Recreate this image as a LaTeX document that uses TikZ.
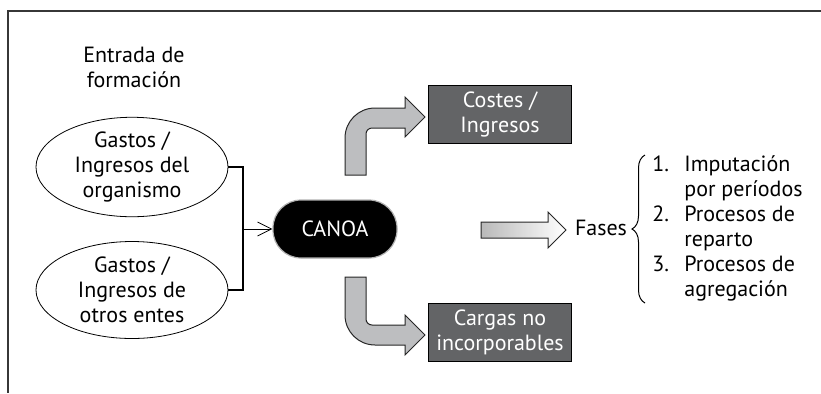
\documentclass[tikz,border=0pt]{standalone}
\usepackage{fontspec}
\setmainfont{PT Sans}
\usetikzlibrary{shapes.geometric,arrows.meta,decorations.pathreplacing}
\definecolor{boxgray}{RGB}{99,100,102}
\definecolor{arrowgray}{RGB}{189,190,192}
\definecolor{framegray}{RGB}{55,55,55}
\tikzset{
  source/.style={ellipse, draw, line width=0.4pt, minimum width=96pt,
    minimum height=48.5pt, inner sep=0pt, align=center},
  core/.style={rounded corners=14pt, fill=black, draw=gray!60,
    line width=0.6pt, text=white, minimum width=62pt, minimum height=29pt},
  result/.style={fill=boxgray, draw=black, line width=0.5pt, text=white,
    minimum width=71.5pt, minimum height=29pt, inner sep=0pt, align=center},
  bentarrow/.style={fill=arrowgray, draw=black!85, line width=0.5pt},
  flatarrow/.style={left color=gray!55, right color=white, draw=black!85,
    line width=0.5pt},
}
\begin{document}
\begin{tikzpicture}[x=0.5pt,y=-0.5pt,font=\fontsize{11}{12.5}\selectfont]
  \useasboundingbox (0,0) rectangle (821,393);
  \draw[framegray,line width=0.6pt] (821,11) -- (8,11) -- (8,393);

  \node[align=center] (entry) at (134,67) {Entrada de\\formación};
  \node[source] (own) at (132,167) {Gastos /\\Ingresos del\\organismo};
  \node[source] (other) at (132,290) {Gastos /\\Ingresos de\\otros entes};
  \node[core] (canoa) at (335,229) {CANOA};
  \node[result] (costs) at (500,114) {Costes /\\Ingresos};
  \node[result] (loads) at (500,332) {Cargas no\\incorporables};
  \node (phases) at (601,228) {Fases};
  \node[anchor=west, inner sep=0pt] (steps) at (652,229) {%
    \begin{tabular}{@{}p{16pt}@{}l@{}}
      1. & Imputación\\
         & por períodos\\
      2. & Procesos de\\
         & reparto\\
      3. & Procesos de\\
         & agregación
    \end{tabular}};

  % inputs into CANOA
  \coordinate (join) at (243,229);
  \draw[line width=1pt] (own.east) -| (join) |- (other.east);
  \draw[-{Straight Barb[length=7pt,width=7pt]}, line width=0.4pt]
    (join) -- (canoa.west);

  % bent arrows
  \draw[bentarrow] (345,175) -- (345,138)
    .. controls (345,121.4) and (358.4,108) .. (375,108) -- (405,108)
    -- (405,97) -- (425,117) -- (405,137) -- (405,128) -- (372,128)
    .. controls (368.7,128) and (366,130.7) .. (366,134) -- (366,175) -- cycle;
  \draw[bentarrow] (345,277) -- (345,315)
    .. controls (345,331.6) and (358.4,345) .. (375,345) -- (405,345)
    -- (405,355) -- (425,335) -- (405,315) -- (405,325) -- (372,325)
    .. controls (368.7,325) and (366,322.3) .. (366,319) -- (366,277) -- cycle;

  % arrow to the phases
  \draw[flatarrow] (481,222) -- (548,222) -- (548,212) -- (566,230)
    -- (548,248) -- (548,238) -- (481,238) -- cycle;

  % brace
  \coordinate (brtop) at (645,155);
  \coordinate (brbot) at (645,303);
  \draw[decorate, decoration={brace, amplitude=6.5pt}, line width=0.5pt]
    (brbot) -- (brtop);
\end{tikzpicture}
\end{document}
